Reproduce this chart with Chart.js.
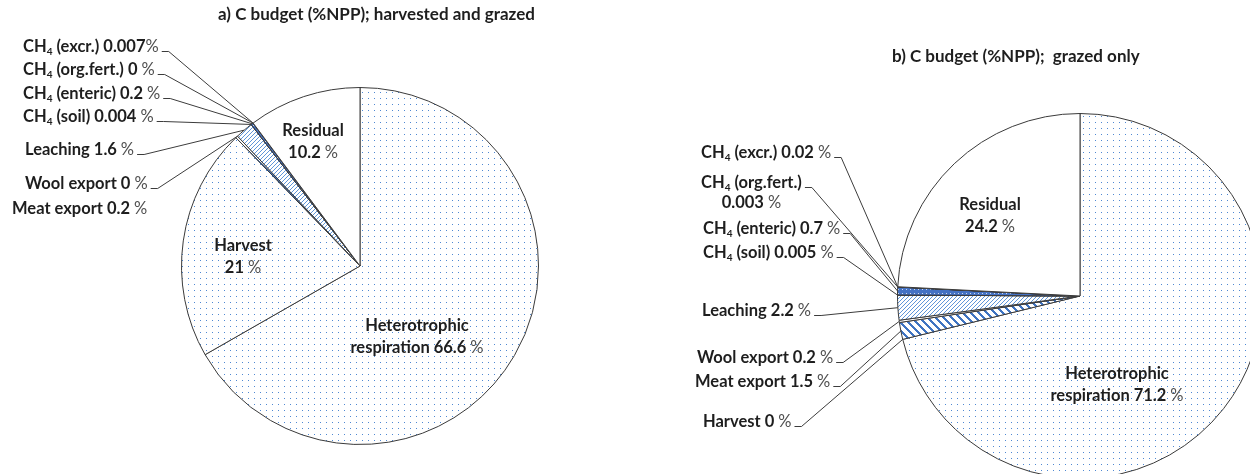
<!DOCTYPE html>
<html>
<head>
<meta charset="utf-8">
<script src="https://cdn.jsdelivr.net/npm/chart.js@4"></script>
<style>
    html, body { margin: 0; padding: 0; background: #fff; overflow: hidden; width: 1250px; height: 474px; }
    #boxA { position: absolute; left: 0; top: 0; width: 625px; height: 474px; }
    #boxB { position: absolute; left: 625px; top: 0; width: 700px; height: 500px; }
</style>
</head>
<body>
<div id="boxA"><canvas id="chartA"></canvas></div>
<div id="boxB"><canvas id="chartB"></canvas></div>
<script>
    // data (% of NPP)
    var categories = ['Heterotrophic respiration', 'Harvest', 'Meat export', 'Wool export', 'Leaching',
        'CH₄ (soil)', 'CH₄ (enteric)', 'CH₄ (org.fert.)', 'CH₄ (excr.)', 'Residual'];
    var valuesA = [66.6, 21, 0.2, 0, 1.6, 0.004, 0.2, 0, 0.007, 10.2];
    var valuesB = [71.2, 0, 1.5, 0.2, 2.2, 0.005, 0.7, 0.003, 0.02, 24.2];
    var titleA = 'a) C budget (%NPP); harvested and grazed';
    var titleB = 'b) C budget (%NPP);  grazed only';

    var FONT = 'Lato';
    var SIZE = 16.5;
    var TITLE_SIZE = 17;

    // label placement (page coordinates)
    var layoutA = {
        offsetX: 0,
        title: {x: 218, y: 15},
        outside: [
            {i: 8, x: 23, y: 47, tight: true},
            {i: 7, x: 23, y: 70},
            {i: 6, x: 23, y: 94},
            {i: 5, x: 23, y: 117},
            {i: 4, x: 25, y: 150},
            {i: 3, x: 25, y: 184},
            {i: 2, x: 12, y: 209, noLine: true}
        ],
        inside: [
            {i: 9, x: 313, y: 131},
            {i: 1, x: 243, y: 246},
            {i: 0, x: 417, y: 326}
        ]
    };
    var layoutB = {
        offsetX: 625,
        title: {x: 892, y: 57},
        outside: [
            {i: 8, x: 701, y: 153},
            {i: 7, x: 701, y: 183, wrap: true},
            {i: 6, x: 703, y: 229},
            {i: 5, x: 703, y: 253},
            {i: 4, x: 702, y: 311},
            {i: 3, x: 697, y: 358},
            {i: 2, x: 695, y: 382},
            {i: 1, x: 703, y: 422}
        ],
        inside: [
            {i: 9, x: 990, y: 205},
            {i: 0, x: 1117, y: 374}
        ]
    };

    function makePattern(size, draw) {
        var c = document.createElement('canvas');
        c.width = size;
        c.height = size;
        var g = c.getContext('2d');
        draw(g, size);
        return g.createPattern(c, 'repeat');
    }

    var dotFill = makePattern(6, function (g, s) {
        g.fillStyle = '#ffffff';
        g.fillRect(0, 0, s, s);
        g.fillStyle = '#4f88d2';
        g.fillRect(2, 2, 1, 1);
    });
    var fineHatch = makePattern(4, function (g, s) {
        g.fillStyle = '#ffffff';
        g.fillRect(0, 0, s, s);
        g.fillStyle = '#5f95d8';
        for (var i = 0; i < s; i++) {
            g.fillRect(i, s - 1 - i, 1, 1);
        }
    });
    var wideHatch = makePattern(8, function (g, s) {
        g.fillStyle = '#ffffff';
        g.fillRect(0, 0, s, s);
        g.fillStyle = '#3f74c2';
        for (var i = 0; i < s; i++) {
            for (var w = 0; w < 3; w++) {
                g.fillRect((i + w) % s, i, 1, 1);
            }
        }
    });
    var darkDots = makePattern(4, function (g, s) {
        g.fillStyle = '#4472c4';
        g.fillRect(0, 0, s, s);
        g.fillStyle = '#c9d8ef';
        g.fillRect(1, 1, 1, 1);
    });

    var fills = [dotFill, dotFill, wideHatch, '#ffffff', fineHatch, '#2f5597', darkDots, '#2f5597', '#2f5597', '#ffffff'];

    function drawRich(ctx, text, x, y, align) {
        var segs = [];
        for (var k = 0; k < text.length; k++) {
            var ch = text[k];
            var kind = ch === '₄' ? 'sub' : (ch === '%' ? 'pct' : 'bold');
            if (segs.length && segs[segs.length - 1].kind === kind) {
                segs[segs.length - 1].text += ch;
            } else {
                segs.push({kind: kind, text: ch});
            }
        }
        function fontOf(kind) {
            if (kind === 'sub') return 'bold ' + Math.round(SIZE * 0.62) + 'px ' + FONT;
            if (kind === 'pct') return SIZE + 'px ' + FONT;
            return 'bold ' + SIZE + 'px ' + FONT;
        }
        var total = 0;
        segs.forEach(function (s) {
            ctx.font = fontOf(s.kind);
            s.out = s.text.replace(/₄/g, '4');
            s.w = ctx.measureText(s.out).width;
            total += s.w;
        });
        var cx = align === 'center' ? x - total / 2 : x;
        ctx.textAlign = 'left';
        ctx.textBaseline = 'middle';
        segs.forEach(function (s) {
            ctx.font = fontOf(s.kind);
            ctx.fillStyle = s.kind === 'pct' ? '#505050' : '#1e1e1e';
            ctx.fillText(s.out, cx, s.kind === 'sub' ? y + SIZE * 0.3 : y);
            cx += s.w;
        });
        return cx;
    }

    var budgetLabels = {
        id: 'budgetLabels',
        afterDatasetsDraw: function (chart, args, opts) {
            var ctx = chart.ctx;
            var lay = opts.layout;
            var ox = lay.offsetX;
            var values = chart.data.datasets[0].data;
            var names = chart.data.labels;
            var arcs = chart.getDatasetMeta(0).data;
            ctx.save();

            ctx.font = 'bold ' + TITLE_SIZE + 'px ' + FONT;
            ctx.fillStyle = '#1e1e1e';
            ctx.textAlign = 'left';
            ctx.textBaseline = 'middle';
            ctx.fillText(opts.title, lay.title.x - ox, lay.title.y);

            lay.outside.forEach(function (p) {
                var name = names[p.i];
                var val = values[p.i] + (p.tight ? '%' : ' %');
                var x = p.x - ox;
                var end;
                if (p.wrap) {
                    end = drawRich(ctx, name, x, p.y, 'left');
                    drawRich(ctx, val, (x + end) / 2, p.y + 20, 'center');
                } else {
                    end = drawRich(ctx, name + ' ' + val, x, p.y, 'left');
                }
                if (p.noLine) return;
                var a = arcs[p.i].getProps(['x', 'y', 'startAngle', 'endAngle', 'outerRadius'], true);
                var mid = (a.startAngle + a.endAngle) / 2;
                var tx = a.x + Math.cos(mid) * a.outerRadius;
                var ty = a.y + Math.sin(mid) * a.outerRadius;
                ctx.beginPath();
                ctx.strokeStyle = '#3c3c3c';
                ctx.lineWidth = 1;
                ctx.moveTo(end + 3, p.y + 4.5);
                ctx.lineTo(end + 10, p.y + 4.5);
                ctx.lineTo(tx, ty);
                ctx.stroke();
            });

            lay.inside.forEach(function (p) {
                var words = names[p.i].split(' ');
                var lines = words.length > 1 ? [words[0], words.slice(1).join(' ') + ' ' + values[p.i] + ' %']
                    : [words[0], values[p.i] + ' %'];
                drawRich(ctx, lines[0], p.x - ox, p.y, 'center');
                drawRich(ctx, lines[1], p.x - ox, p.y + 22, 'center');
            });
            ctx.restore();
        }
    };

    function buildPie(canvasId, values, title, layout, padding) {
        return new Chart(document.getElementById(canvasId), {
            type: 'pie',
            data: {
                labels: categories,
                datasets: [{
                    data: values,
                    backgroundColor: fills,
                    borderColor: '#3a3a3a',
                    borderWidth: 1
                }]
            },
            options: {
                responsive: true,
                maintainAspectRatio: false,
                animation: false,
                events: [],
                layout: {padding: padding},
                plugins: {
                    legend: {display: false},
                    tooltip: {enabled: false},
                    budgetLabels: {title: title, layout: layout}
                }
            },
            plugins: [budgetLabels]
        });
    }

    buildPie('chartA', valuesA, titleA, layoutA, {top: 87, bottom: 29, left: 181, right: 86});
    buildPie('chartB', valuesB, titleB, layoutB, {top: 113, bottom: 21, left: 272, right: 62});
</script>
</body>
</html>
